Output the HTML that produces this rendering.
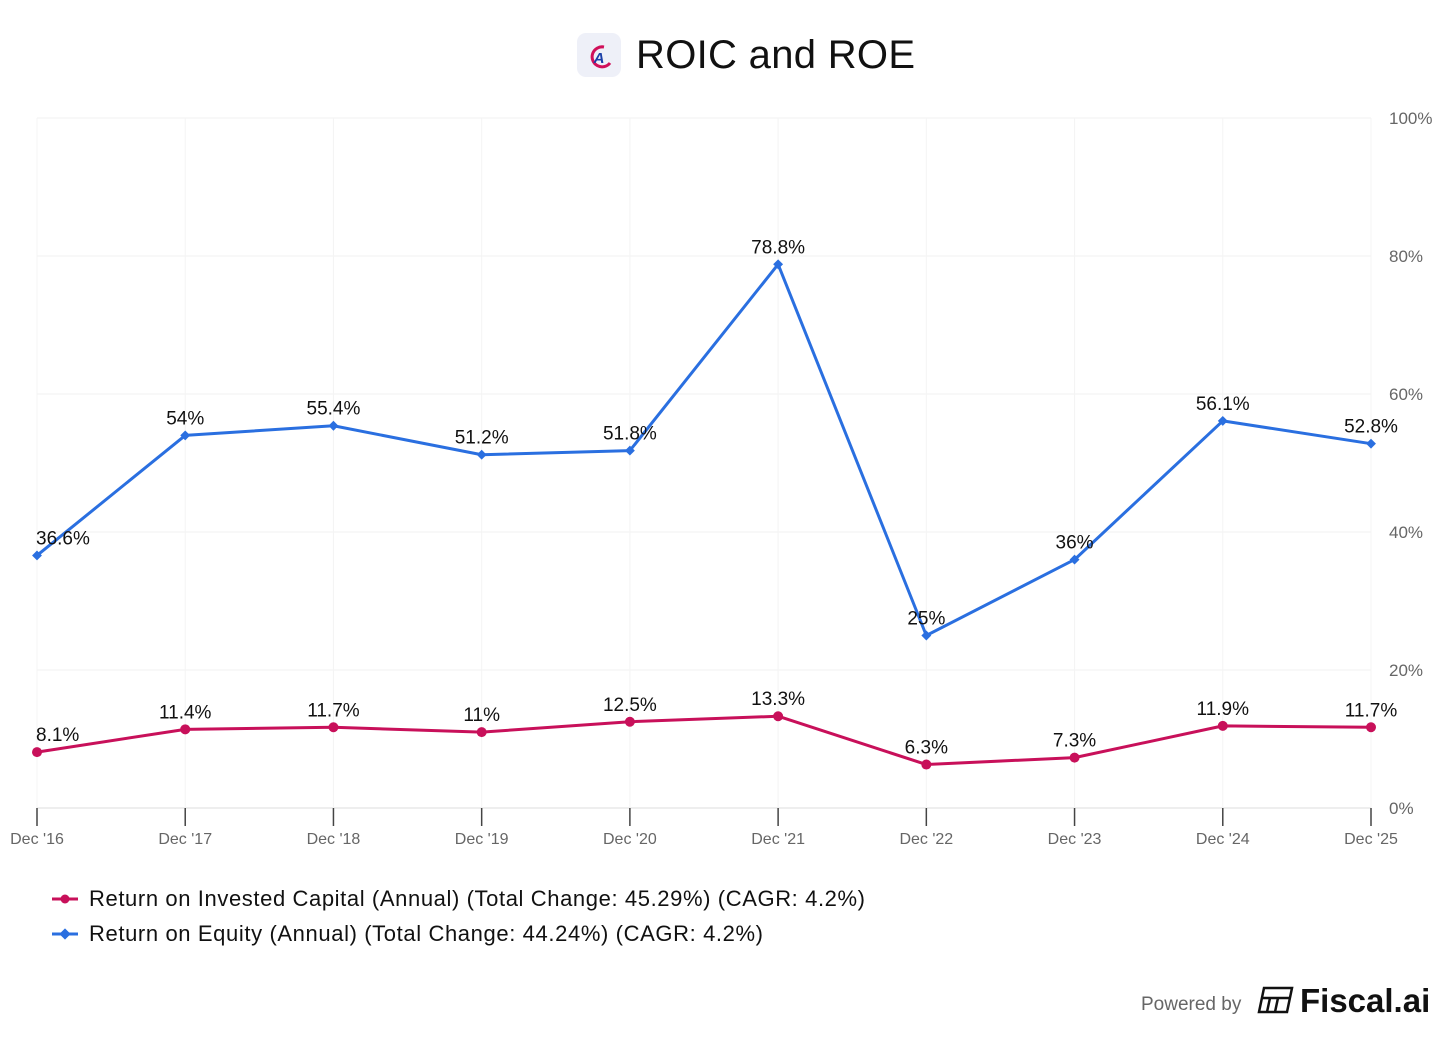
<!DOCTYPE html>
<html><head><meta charset="utf-8"><style>
body{margin:0;background:#fff;font-family:"Liberation Sans",Arial,sans-serif;}
svg text{font-family:"Liberation Sans",Arial,sans-serif;}
</style></head><body>
<svg id="c" width="1456" height="1032" viewBox="0 0 1456 1032">
<g>
<rect x="577" y="33" width="44" height="44" rx="9" fill="#eef0f8"/>
<path d="M604 47 A10 10 0 1 0 610 63" stroke="#d0105a" stroke-width="3" fill="none"/>
<text x="599" y="63" font-size="15" font-weight="bold" font-style="italic" fill="#1a3fa8" text-anchor="middle">A</text>
<text x="636" y="68" font-size="40" fill="#111" textLength="279">ROIC and ROE</text>
</g>
<g id="grid"></g>
<g id="axes"></g>
<g id="series"></g>
<g>
<g>
<line x1="52" y1="899" x2="78" y2="899" stroke="#c8105a" stroke-width="3"/><circle cx="65" cy="899" r="4.5" fill="#c8105a"/>
<text x="89" y="906" font-size="22" fill="#111" textLength="776">Return on Invested Capital (Annual) (Total Change: 45.29%) (CAGR: 4.2%)</text></g>
<g>
<line x1="52" y1="934" x2="78" y2="934" stroke="#2a6fe0" stroke-width="3"/><rect x="61" y="930" width="8" height="8" transform="rotate(45 65 934)" fill="#2a6fe0"/>
<text x="89" y="941" font-size="22" fill="#111" textLength="674">Return on Equity (Annual) (Total Change: 44.24%) (CAGR: 4.2%)</text></g>
</g>
<g>
<text x="1141" y="1010" font-size="19" fill="#666">Powered by</text>
<g stroke="#111" stroke-width="2.5" fill="none"><path d="M1264 988 h28 l-5 24 h-28 z"/><path d="M1262 998 h28 M1270 998 l-3 14 M1278 998 l-3 14"/></g>
<text x="1300" y="1012" font-size="33" font-weight="bold" fill="#111">Fiscal.ai</text>
</g>
</svg>
<script>
const categories=["Dec '16","Dec '17","Dec '18","Dec '19","Dec '20","Dec '21","Dec '22","Dec '23","Dec '24","Dec '25"];
const roicValues=[8.1,11.4,11.7,11,12.5,13.3,6.3,7.3,11.9,11.7];
const roeValues=[36.6,54,55.4,51.2,51.8,78.8,25,36,56.1,52.8];
const yTicks=[0,20,40,60,80,100];
const NS="http://www.w3.org/2000/svg";
const X0=37,X1=1371,Y0=808,Y1=118;
const xs=i=>X0+(X1-X0)*i/(categories.length-1);
const ys=v=>Y0-(Y0-Y1)*v/100;
function mk(tag,attrs,parent,txt){const e=document.createElementNS(NS,tag);for(const k in attrs)e.setAttribute(k,attrs[k]);if(txt!==undefined)e.textContent=txt;parent.appendChild(e);return e;}
const grid=document.getElementById('grid'),axes=document.getElementById('axes'),ser=document.getElementById('series');
yTicks.forEach(t=>{
 const l=mk('line',{x1:X0,x2:X1,y1:ys(t),y2:ys(t),stroke:t===0?'#ddd':'#f2f2f2','stroke-width':1},grid);
 
 
 const tx=mk('text',{x:1389,y:ys(t)+6,'font-size':17,fill:'#666'},axes,t+'%');
 
 
});
categories.forEach((c,i)=>{
 const l=mk('line',{x1:xs(i),x2:xs(i),y1:Y1,y2:Y0,stroke:'#f4f4f4'},grid);
 
 
 const tk=mk('line',{x1:xs(i),x2:xs(i),y1:Y0,y2:Y0+18,stroke:'#444','stroke-width':1.5},axes);
 
 
 const tx=mk('text',{x:xs(i),y:844,'font-size':16,fill:'#666','text-anchor':'middle'},axes,c);
 
 
});
function drawSeries(vals,color,marker,name){
 const g=mk('g',{},ser);
 
 
 const p=mk('polyline',{points:vals.map((v,i)=>xs(i)+','+ys(v)).join(' '),fill:'none',stroke:color,'stroke-width':3,'stroke-linejoin':'round'},g);
 
 
 vals.forEach((v,i)=>{
  const x=xs(i),y=ys(v);
  let m;
  if(marker==='circle')m=mk('circle',{cx:x,cy:y,r:5,fill:color},g);
  else m=mk('rect',{x:x-3.5,y:y-3.5,width:7,height:7,fill:color,transform:`rotate(45 ${x} ${y})`},g);
  
  
  let anchor='middle',lx=x;
  if(i===0){anchor='start';lx=x-1;}
  const t=mk('text',{x:lx,y:y-11,'font-size':19,fill:'#111','text-anchor':anchor},g,v+'%');
  
  
 });
}
drawSeries(roeValues,'#2a6fe0','diamond','roe-series');
drawSeries(roicValues,'#c8105a','circle','roic-series');
</script>
</body></html>
